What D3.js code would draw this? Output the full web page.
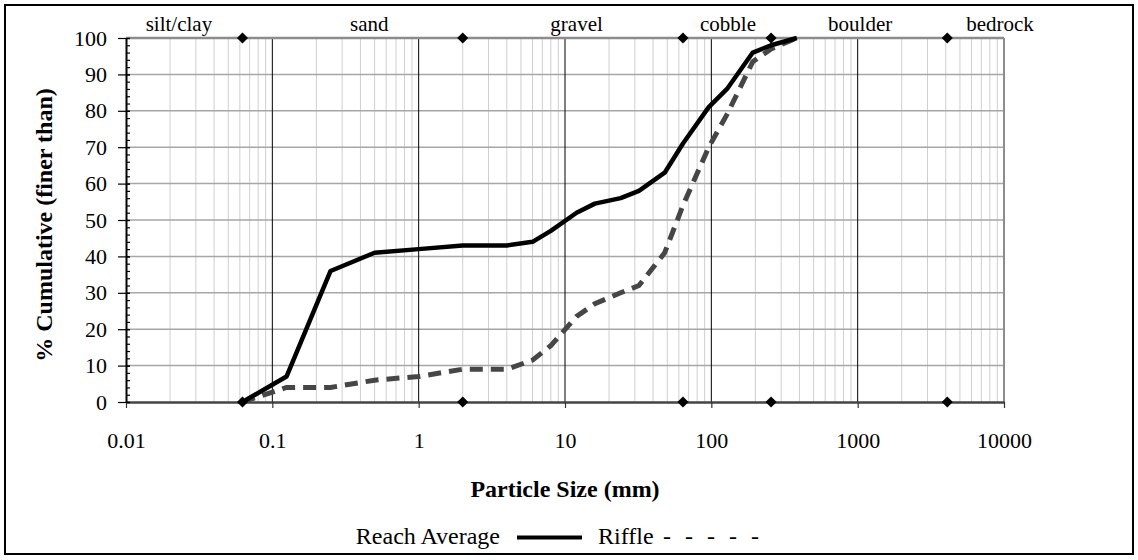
<!DOCTYPE html>
<meta charset="utf-8">

<style type="text/css">
  body {
    margin: 0;
    background: #fff;
  }

  svg text {
    font-family: "Liberation Serif", "Times New Roman", serif;
    fill: #000;
  }
</style>

<body>
</body>

<script src="https://d3js.org/d3.v7.min.js"></script>
<script>
  // sieve sizes (mm) and cumulative percent finer
  var sizes = [0.0625, 0.125, 0.25, 0.5, 1, 2, 4, 6, 8, 12, 16, 24, 32, 48, 64, 96, 128, 192, 256, 384];
  var reachAverage = [0, 7, 36, 41, 42, 43, 43, 44, 47, 52, 54.5, 56, 58, 63, 71, 81, 86, 96, 98, 100];
  var riffle = [0, 4, 4, 6, 7, 9, 9, 11.5, 15.5, 23.5, 27, 30, 32, 41, 54, 70, 79, 93.5, 97, 100];

  // size class boundaries (diamonds) and class labels
  var boundaries = [0.0625, 2, 64, 256, 4096];
  var classNames = ["silt/clay", "sand", "gravel", "cobble", "boulder", "bedrock"];
  var classLabelAt = [0.023, 0.46, 12, 130, 1040, 9400];

  var xTicks = [0.01, 0.1, 1, 10, 100, 1000, 10000];
  var xTickLabels = ["0.01", "0.1", "1", "10", "100", "1000", "10000"];
  var yTicks = d3.range(0, 101, 10);

  var FONT = '"Liberation Serif", "Times New Roman", serif';
  var W = 1138, H = 560;
  var margin = { top: 38, right: 134, bottom: 158, left: 126 };
  var width = W - margin.left - margin.right,
    height = H - margin.top - margin.bottom;

  var x = d3.scaleLog().domain([0.01, 10000]).range([0, width]);
  var y = d3.scaleLinear().domain([0, 100]).range([height, 0]);

  var svg = d3.select("body").append("svg")
    .attr("width", W)
    .attr("height", H)
    .style("font-family", FONT);

  // outer frame
  svg.append("rect")
    .attr("x", 5).attr("y", 5)
    .attr("width", 1128).attr("height", 549)
    .attr("fill", "#fff")
    .attr("stroke", "#000")
    .attr("stroke-width", 2);

  var g = svg.append("g")
    .attr("transform", "translate(" + margin.left + "," + margin.top + ")");

  // minor vertical grid (2..9 of each decade)
  var minorX = [];
  for (var e = -2; e < 4; e++) {
    for (var m = 2; m <= 9; m++) minorX.push(m * Math.pow(10, e));
  }
  g.append("g").selectAll("line")
    .data(minorX)
    .enter().append("line")
    .attr("x1", function(d) { return x(d); })
    .attr("x2", function(d) { return x(d); })
    .attr("y1", 0).attr("y2", height)
    .attr("stroke", "#cfcfcf")
    .attr("stroke-width", 1);

  // horizontal grid
  g.append("g").selectAll("line")
    .data(yTicks.slice(1, -1))
    .enter().append("line")
    .attr("x1", 0).attr("x2", width)
    .attr("y1", function(d) { return y(d); })
    .attr("y2", function(d) { return y(d); })
    .attr("stroke", "#a6a6a6")
    .attr("stroke-width", 1.5);

  // decade lines
  g.append("g").selectAll("line")
    .data(xTicks.slice(1, -1))
    .enter().append("line")
    .attr("x1", function(d) { return x(d); })
    .attr("x2", function(d) { return x(d); })
    .attr("y1", 0).attr("y2", height)
    .attr("stroke", "#000")
    .attr("stroke-width", 1);

  // top and right border of plot area
  g.append("line")
    .attr("x1", 0).attr("x2", width)
    .attr("y1", 0).attr("y2", 0)
    .attr("stroke", "#8c8c8c").attr("stroke-width", 2.5);
  g.append("line")
    .attr("x1", width).attr("x2", width)
    .attr("y1", 0).attr("y2", height)
    .attr("stroke", "#8c8c8c").attr("stroke-width", 2);

  // x axis
  var xAxis = d3.axisBottom(x)
    .tickValues(xTicks)
    .tickSizeInner(6)
    .tickSizeOuter(0)
    .tickPadding(24)
    .tickFormat(function(d, i) { return xTickLabels[i]; });

  var gx = g.append("g")
    .attr("transform", "translate(0," + height + ")")
    .call(xAxis)
    .attr("font-family", null);
  gx.select(".domain").attr("stroke", "#444").attr("stroke-width", 2.5);
  gx.selectAll(".tick line").attr("stroke", "#333").attr("stroke-width", 1.2);
  gx.selectAll("text").style("font-size", "22px").style("font-family", FONT);

  // y axis minor ticks
  g.append("g")
    .call(d3.axisLeft(y).tickValues(d3.range(0, 101, 2)).tickSizeInner(-4).tickSizeOuter(0).tickFormat(""))
    .call(function(s) {
      s.select(".domain").remove();
      s.selectAll(".tick line").attr("stroke", "#000").attr("stroke-width", 1.2);
    });

  // y axis
  var gy = g.append("g")
    .call(d3.axisLeft(y).tickValues(yTicks).tickSizeInner(8).tickSizeOuter(0).tickPadding(11))
    .attr("font-family", null);
  gy.select(".domain").attr("stroke", "#000").attr("stroke-width", 2);
  gy.selectAll(".tick line").attr("x2", 4).attr("x1", -8)
    .attr("stroke", "#000").attr("stroke-width", 1.2);
  gy.selectAll("text").style("font-size", "22px").style("font-family", FONT);

  // series
  var line = d3.line()
    .x(function(d) { return x(d[0]); })
    .y(function(d) { return y(d[1]); });

  g.append("path")
    .datum(d3.zip(sizes, riffle))
    .attr("fill", "none")
    .attr("stroke", "#464646")
    .attr("stroke-width", 5)
    .attr("stroke-dasharray", "13,8")
    .attr("d", line);

  g.append("path")
    .datum(d3.zip(sizes, reachAverage))
    .attr("fill", "none")
    .attr("stroke", "#000")
    .attr("stroke-width", 4.5)
    .attr("stroke-linejoin", "round")
    .attr("d", line);

  // class boundary diamonds, top and bottom
  var diamond = d3.symbol().type(d3.symbolSquare).size(62);
  var marks = [];
  boundaries.forEach(function(b) { marks.push([b, 100]); marks.push([b, 0]); });
  g.append("g").selectAll("path")
    .data(marks)
    .enter().append("path")
    .attr("d", diamond)
    .attr("fill", "#000")
    .attr("transform", function(d) {
      return "translate(" + x(d[0]) + "," + y(d[1]) + ") rotate(45)";
    });

  // class labels
  g.append("g").selectAll("text")
    .data(classNames)
    .enter().append("text")
    .attr("x", function(d, i) { return x(classLabelAt[i]); })
    .attr("y", -7)
    .attr("text-anchor", "middle")
    .style("font-size", "21px")
    .text(function(d) { return d; });

  // axis titles
  svg.append("text")
    .attr("x", 565)
    .attr("y", 497)
    .attr("text-anchor", "middle")
    .style("font-size", "24px")
    .style("font-weight", "bold")
    .text("Particle Size (mm)");

  svg.append("text")
    .attr("transform", "translate(52,225) rotate(-90)")
    .attr("text-anchor", "middle")
    .style("font-size", "24px")
    .style("font-weight", "bold")
    .text("% Cumulative (finer than)");

  // legend
  var legend = svg.append("g");
  legend.append("text")
    .attr("x", 500).attr("y", 544)
    .attr("text-anchor", "end")
    .style("font-size", "24px")
    .text("Reach Average");
  legend.append("line")
    .attr("x1", 517).attr("x2", 582)
    .attr("y1", 537.5).attr("y2", 537.5)
    .attr("stroke", "#000").attr("stroke-width", 4);
  legend.append("text")
    .attr("x", 598).attr("y", 544)
    .style("font-size", "24px")
    .text("Riffle");
  legend.selectAll(".dash")
    .data(d3.range(5))
    .enter().append("text")
    .attr("class", "dash")
    .attr("x", function(d) { return 663 + d * 22; })
    .attr("y", 544)
    .style("font-size", "24px")
    .text("-");
</script>
